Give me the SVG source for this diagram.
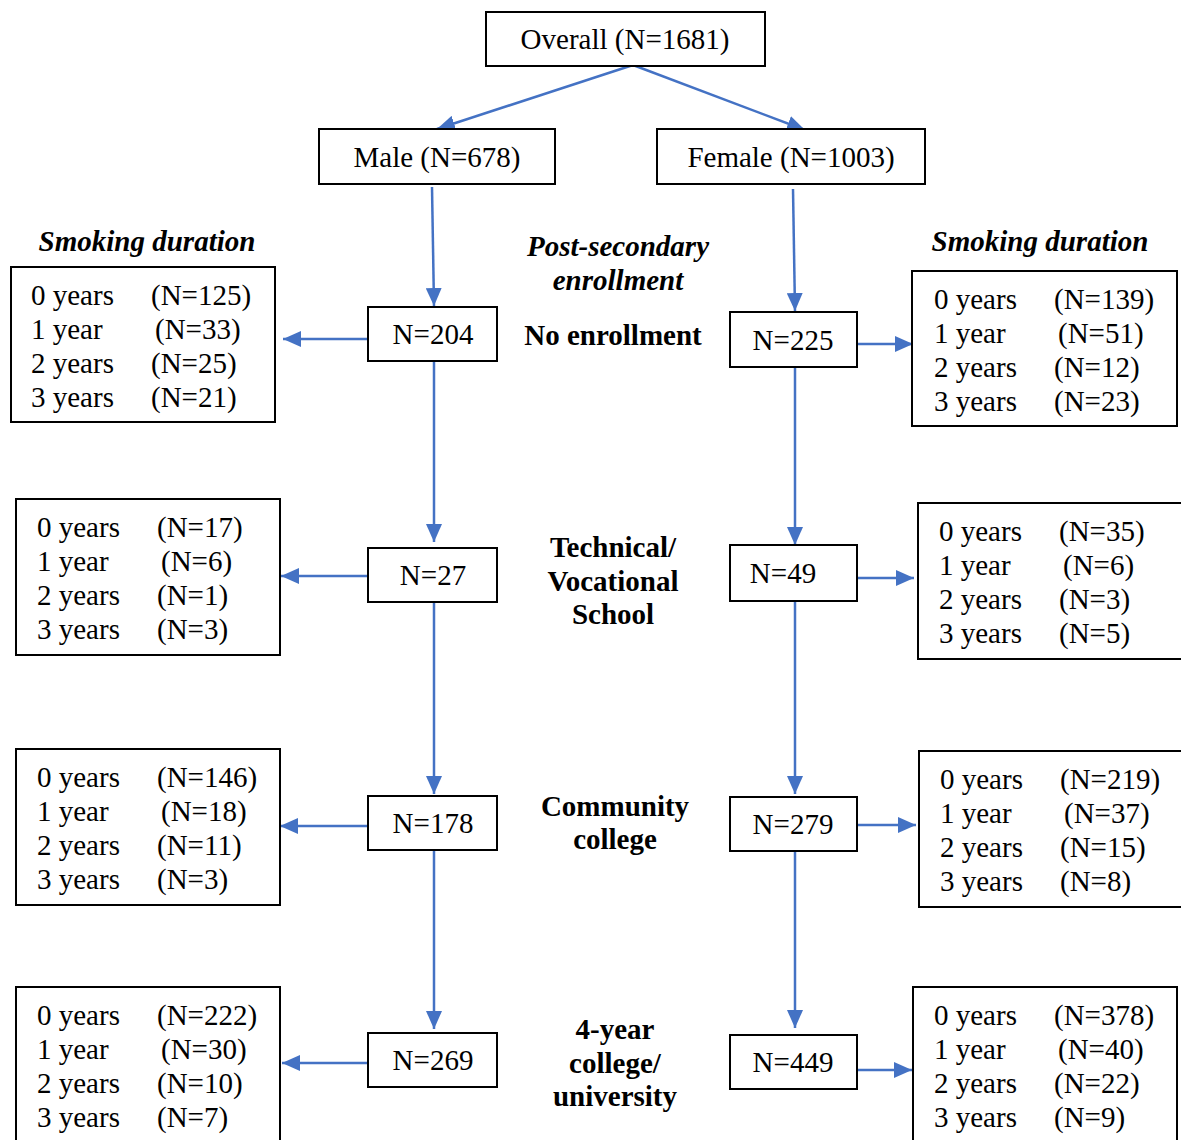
<svg xmlns="http://www.w3.org/2000/svg" width="1181" height="1140" viewBox="0 0 1181 1140">
<style>
.box{fill:#fff;stroke:#000;stroke-width:2}
.t{font-family:"Liberation Serif","Times New Roman",serif;font-size:29px;fill:#000}
.c{text-anchor:middle}
.b{font-weight:bold}
.bi{font-weight:bold;font-style:italic}
.con{stroke:#4472C4;stroke-width:2.5;fill:none;marker-end:url(#ah)}
</style>
<defs>
<marker id="ah" markerUnits="userSpaceOnUse" markerWidth="20" markerHeight="16" refX="18" refY="8" orient="auto">
<path d="M0,0 L18,8 L0,16 Z" fill="#4472C4"/>
</marker>
</defs>
<rect width="1181" height="1140" fill="#fff"/>
<g id="connectors">
<line class="con" x1="633" y1="65" x2="437" y2="129"/>
<line class="con" x1="633" y1="65" x2="805" y2="130"/>
<line class="con" x1="432" y1="187" x2="434" y2="306"/>
<line class="con" x1="793" y1="189" x2="795" y2="311"/>
<line class="con" x1="368" y1="339" x2="283" y2="339"/>
<line class="con" x1="857" y1="344" x2="913" y2="344"/>
<line class="con" x1="434" y1="361" x2="434" y2="542"/>
<line class="con" x1="795" y1="367" x2="795" y2="545"/>
<line class="con" x1="368" y1="576" x2="281" y2="576"/>
<line class="con" x1="857" y1="578" x2="914" y2="578"/>
<line class="con" x1="434" y1="602" x2="434" y2="794"/>
<line class="con" x1="795" y1="601" x2="795" y2="794"/>
<line class="con" x1="368" y1="826" x2="280" y2="826"/>
<line class="con" x1="857" y1="825" x2="916" y2="825"/>
<line class="con" x1="434" y1="850" x2="434" y2="1029"/>
<line class="con" x1="795" y1="851" x2="795" y2="1028"/>
<line class="con" x1="368" y1="1063" x2="282" y2="1063"/>
<line class="con" x1="857" y1="1070" x2="912" y2="1070"/>
</g>
<g id="overall"><rect class="box" x="486" y="12" width="279" height="54"/><text class="t c" x="625" y="49">Overall (N=1681)</text></g>
<g id="male"><rect class="box" x="319" y="129" width="236" height="55"/><text class="t c" x="437" y="167">Male (N=678)</text></g>
<g id="female"><rect class="box" x="657" y="129" width="268" height="55"/><text class="t c" x="791" y="167">Female (N=1003)</text></g>
<g id="labels">
<text class="t c bi" x="147" y="251">Smoking duration</text>
<text class="t c bi" x="1040" y="251">Smoking duration</text>
<text class="t c bi" x="618" y="256">Post-secondary</text>
<text class="t c bi" x="618" y="290">enrollment</text>
<text class="t c b" x="613" y="345">No enrollment</text>
<text class="t c b" x="613" y="557">Technical/</text>
<text class="t c b" x="613" y="591">Vocational</text>
<text class="t c b" x="613" y="624">School</text>
<text class="t c b" x="615" y="816">Community</text>
<text class="t c b" x="615" y="849">college</text>
<text class="t c b" x="615" y="1039">4-year</text>
<text class="t c b" x="615" y="1073">college/</text>
<text class="t c b" x="615" y="1106">university</text>
</g>
<g id="m-none"><rect class="box" x="368" y="307" width="129" height="54"/><text class="t c" x="433" y="344">N=204</text></g>
<g id="f-none"><rect class="box" x="730" y="312" width="127" height="55"/><text class="t c" x="793" y="350">N=225</text></g>
<g id="m-tech"><rect class="box" x="368" y="548" width="129" height="54"/><text class="t c" x="433" y="585">N=27</text></g>
<g id="f-tech"><rect class="box" x="730" y="545" width="127" height="56"/><text class="t c" x="783" y="583">N=49</text></g>
<g id="m-comm"><rect class="box" x="368" y="796" width="129" height="54"/><text class="t c" x="433" y="833">N=178</text></g>
<g id="f-comm"><rect class="box" x="730" y="797" width="127" height="54"/><text class="t c" x="793" y="834">N=279</text></g>
<g id="m-univ"><rect class="box" x="368" y="1033" width="129" height="54"/><text class="t c" x="433" y="1070">N=269</text></g>
<g id="f-univ"><rect class="box" x="730" y="1035" width="127" height="54"/><text class="t c" x="793" y="1072">N=449</text></g>
<g id="m-none-dur"><rect class="box" x="11" y="267" width="264" height="155"/>
<text class="t" x="31" y="305">0 years</text><text class="t" x="151" y="305">(N=125)</text>
<text class="t" x="31" y="339">1 year</text><text class="t" x="155" y="339">(N=33)</text>
<text class="t" x="31" y="373">2 years</text><text class="t" x="151" y="373">(N=25)</text>
<text class="t" x="31" y="407">3 years</text><text class="t" x="151" y="407">(N=21)</text></g>
<g id="f-none-dur"><rect class="box" x="912" y="271" width="265" height="155"/>
<text class="t" x="934" y="309">0 years</text><text class="t" x="1054" y="309">(N=139)</text>
<text class="t" x="934" y="343">1 year</text><text class="t" x="1058" y="343">(N=51)</text>
<text class="t" x="934" y="377">2 years</text><text class="t" x="1054" y="377">(N=12)</text>
<text class="t" x="934" y="411">3 years</text><text class="t" x="1054" y="411">(N=23)</text></g>
<g id="m-tech-dur"><rect class="box" x="16" y="499" width="264" height="156"/>
<text class="t" x="37" y="537">0 years</text><text class="t" x="157" y="537">(N=17)</text>
<text class="t" x="37" y="571">1 year</text><text class="t" x="161" y="571">(N=6)</text>
<text class="t" x="37" y="605">2 years</text><text class="t" x="157" y="605">(N=1)</text>
<text class="t" x="37" y="639">3 years</text><text class="t" x="157" y="639">(N=3)</text></g>
<g id="f-tech-dur"><rect class="box" x="918" y="503" width="270" height="156"/>
<text class="t" x="939" y="541">0 years</text><text class="t" x="1059" y="541">(N=35)</text>
<text class="t" x="939" y="575">1 year</text><text class="t" x="1063" y="575">(N=6)</text>
<text class="t" x="939" y="609">2 years</text><text class="t" x="1059" y="609">(N=3)</text>
<text class="t" x="939" y="643">3 years</text><text class="t" x="1059" y="643">(N=5)</text></g>
<g id="m-comm-dur"><rect class="box" x="16" y="749" width="264" height="156"/>
<text class="t" x="37" y="787">0 years</text><text class="t" x="157" y="787">(N=146)</text>
<text class="t" x="37" y="821">1 year</text><text class="t" x="161" y="821">(N=18)</text>
<text class="t" x="37" y="855">2 years</text><text class="t" x="157" y="855">(N=11)</text>
<text class="t" x="37" y="889">3 years</text><text class="t" x="157" y="889">(N=3)</text></g>
<g id="f-comm-dur"><rect class="box" x="919" y="751" width="270" height="156"/>
<text class="t" x="940" y="789">0 years</text><text class="t" x="1060" y="789">(N=219)</text>
<text class="t" x="940" y="823">1 year</text><text class="t" x="1064" y="823">(N=37)</text>
<text class="t" x="940" y="857">2 years</text><text class="t" x="1060" y="857">(N=15)</text>
<text class="t" x="940" y="891">3 years</text><text class="t" x="1060" y="891">(N=8)</text></g>
<g id="m-univ-dur"><rect class="box" x="16" y="987" width="264" height="160"/>
<text class="t" x="37" y="1025">0 years</text><text class="t" x="157" y="1025">(N=222)</text>
<text class="t" x="37" y="1059">1 year</text><text class="t" x="161" y="1059">(N=30)</text>
<text class="t" x="37" y="1093">2 years</text><text class="t" x="157" y="1093">(N=10)</text>
<text class="t" x="37" y="1127">3 years</text><text class="t" x="157" y="1127">(N=7)</text></g>
<g id="f-univ-dur"><rect class="box" x="913" y="987" width="264" height="160"/>
<text class="t" x="934" y="1025">0 years</text><text class="t" x="1054" y="1025">(N=378)</text>
<text class="t" x="934" y="1059">1 year</text><text class="t" x="1058" y="1059">(N=40)</text>
<text class="t" x="934" y="1093">2 years</text><text class="t" x="1054" y="1093">(N=22)</text>
<text class="t" x="934" y="1127">3 years</text><text class="t" x="1054" y="1127">(N=9)</text></g>
</svg>
